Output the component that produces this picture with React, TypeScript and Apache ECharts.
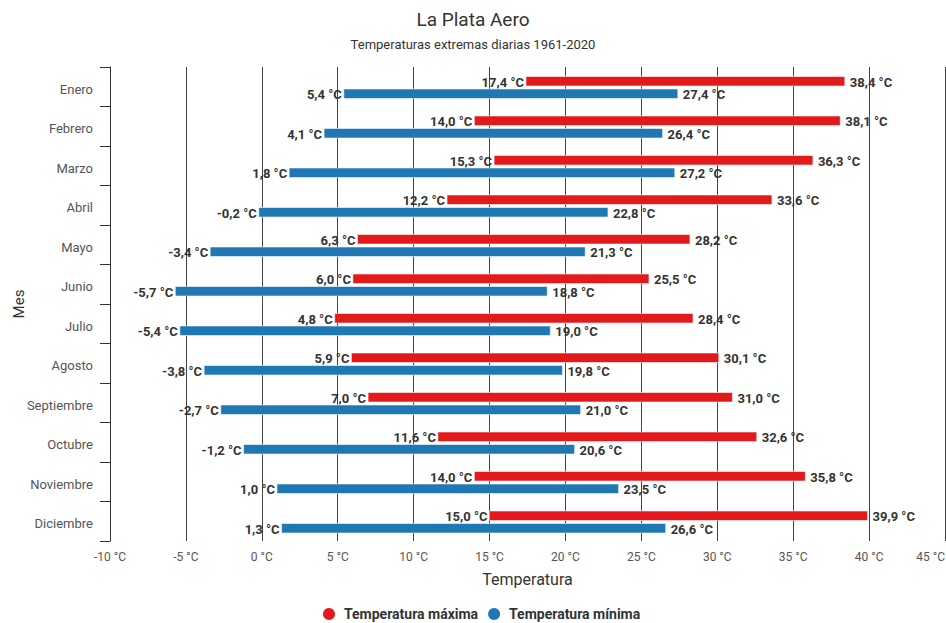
import React, { useEffect, useRef } from "react";
import * as echarts from "echarts";

const months = ["Enero", "Febrero", "Marzo", "Abril", "Mayo", "Junio", "Julio", "Agosto", "Septiembre", "Octubre", "Noviembre", "Diciembre"];
const maxLo = [17.4, 14.0, 15.3, 12.2, 6.3, 6.0, 4.8, 5.9, 7.0, 11.6, 14.0, 15.0];
const maxHi = [38.4, 38.1, 36.3, 33.6, 28.2, 25.5, 28.4, 30.1, 31.0, 32.6, 35.8, 39.9];
const minLo = [5.4, 4.1, 1.8, -0.2, -3.4, -5.7, -5.4, -3.8, -2.7, -1.2, 1.0, 1.3];
const minHi = [27.4, 26.4, 27.2, 22.8, 21.3, 18.8, 19.0, 19.8, 21.0, 20.6, 23.5, 26.6];

const RED = "#e31a1c";
const BLUE = "#1f78b4";
const FONT = "Roboto, 'Noto Sans', sans-serif";

const fmt = (v: number) => v.toFixed(1).replace(".", ",") + " °C";

function makeRender(color: string, offset: number) {
  return (params: any, api: any) => {
    const cat = api.value(0);
    const lo = api.value(1);
    const hi = api.value(2);
    const s = api.coord([lo, cat]);
    const e = api.coord([hi, cat]);
    const h = 9.5;
    const cy = s[1] + offset;
    return {
      type: "group",
      children: [
        {
          type: "rect",
          shape: { x: s[0], y: cy - h / 2, width: e[0] - s[0], height: h },
          style: { fill: color, stroke: "rgba(255,255,255,0.55)", lineWidth: 1 },
        },
        {
          type: "text",
          style: {
            text: fmt(lo),
            x: s[0] - 2,
            y: cy + 1,
            align: "right",
            verticalAlign: "middle",
            fill: "#333",
            font: `bold 13px ${FONT}`,
          },
        },
        {
          type: "text",
          style: {
            text: fmt(hi),
            x: e[0] + 5,
            y: cy + 1,
            align: "left",
            verticalAlign: "middle",
            fill: "#333",
            font: `bold 13px ${FONT}`,
          },
        },
      ],
    };
  };
}

export default function App() {
  const ref = useRef<HTMLDivElement>(null);
  useEffect(() => {
    if (!ref.current) return;
    const chart = echarts.init(ref.current, undefined, { renderer: "svg" });
    const maxData = months.map((_, i) => [i, maxLo[i], maxHi[i]]);
    const minData = months.map((_, i) => [i, minLo[i], minHi[i]]);
    chart.setOption({
      animation: false,
      backgroundColor: "#fff",
      textStyle: { fontFamily: FONT },
      title: {
        text: "La Plata Aero",
        subtext: "Temperaturas extremas diarias 1961-2020",
        left: "center",
        top: 5,
        itemGap: 9,
        textStyle: { fontFamily: FONT, fontSize: 19, fontWeight: "normal", color: "#333" },
        subtextStyle: { fontFamily: FONT, fontSize: 13, color: "#333" },
      },
      legend: {
        top: 602,
        left: 318,
        icon: "circle",
        itemWidth: 20,
        itemHeight: 12,
        itemGap: 10,
        textStyle: { fontFamily: FONT, fontSize: 14, fontWeight: "bold", color: "#333" },
        data: ["Temperatura máxima", "Temperatura mínima"],
      },
      grid: { left: 110, right: 1, top: 67, bottom: 82, containLabel: false, outerBoundsMode: "none" },
      xAxis: {
        type: "value",
        min: -10,
        max: 45,
        interval: 5,
        name: "Temperatura",
        nameLocation: "middle",
        nameGap: 30,
        nameTextStyle: { fontFamily: FONT, fontSize: 16, color: "#333" },
        axisLine: { show: false },
        axisTick: { show: false },
        axisLabel: {
          formatter: "{value} °C",
          fontFamily: FONT,
          fontSize: 12,
          color: "#555",
          margin: 10,
          alignMaxLabel: "right",
        },
        splitLine: { show: true, lineStyle: { color: "#444", width: 1 } },
      },
      yAxis: {
        type: "category",
        data: months,
        inverse: true,
        name: "Mes",
        nameLocation: "middle",
        nameGap: 84,
        nameMoveOverlap: false,
        nameTextStyle: { fontFamily: FONT, fontSize: 15, color: "#333" },
        axisLine: { show: true, onZero: false, lineStyle: { color: "#333" } },
        axisTick: { show: true, length: 10, alignWithLabel: false, lineStyle: { color: "#333" } },
        axisLabel: {
          fontFamily: FONT,
          fontSize: 13,
          color: "#555",
          margin: 17,
          formatter: (v: string) => "{m|" + v + "}",
          rich: { m: { fontFamily: FONT, fontSize: 13, color: "#555", padding: [5, 0, 0, 0] } },
        },
        splitLine: { show: false },
      },
      series: [
        {
          name: "Temperatura máxima",
          type: "custom",
          itemStyle: { color: RED },
          encode: { x: [1, 2], y: 0 },
          renderItem: makeRender(RED, -5.5),
          data: maxData,
        },
        {
          name: "Temperatura mínima",
          type: "custom",
          itemStyle: { color: BLUE },
          encode: { x: [1, 2], y: 0 },
          renderItem: makeRender(BLUE, 7),
          data: minData,
        },
      ],
    });
    return () => chart.dispose();
  }, []);
  return <div ref={ref} style={{ position: "fixed", left: 0, top: 0, width: 946, height: 623 }} />;
}
